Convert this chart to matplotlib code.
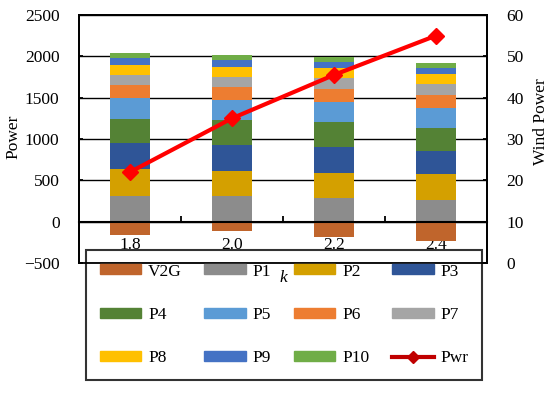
import matplotlib
matplotlib.use('Agg')
import matplotlib.pyplot as plt
from matplotlib.patches import Patch
from matplotlib.lines import Line2D
import numpy as np

plt.rcParams['font.family'] = ['Liberation Serif', 'DejaVu Serif']
fs = 12.5

k_labels = ['1.8', '2.0', '2.2', '2.4']
v2g = [-160, -116, -188, -236]
p1 = [305, 305, 285, 261]
p2 = [328, 308, 309, 312]
p3 = [313, 312, 308, 281]
p4 = [300, 309, 300, 276]
p5 = [249, 240, 240, 240]
p6 = [160, 153, 161, 165]
p7 = [120, 128, 133, 132]
p8 = [120, 120, 120, 120]
p9 = [88, 80, 79, 76]
p10 = [53, 60, 53, 60]
pwr = [22, 35, 45.5, 55]

names = ['P1', 'P2', 'P3', 'P4', 'P5', 'P6', 'P7', 'P8', 'P9', 'P10']
series = [p1, p2, p3, p4, p5, p6, p7, p8, p9, p10]
colors = ['#8c8c8c', '#d4a000', '#2f5597', '#548235', '#5b9bd5',
          '#ed7d31', '#a5a5a5', '#ffc000', '#4472c4', '#70ad47']
v2g_color = '#c0652c'

fig = plt.figure(figsize=(5.5, 3.94), dpi=100)
ax = fig.add_axes([79/550, 1-263/394, 408/550, 248/394])
x = np.arange(len(k_labels))
w = 0.4

ax.bar(x, v2g, w, color=v2g_color, zorder=1)
bottom = np.zeros(len(x))
for vals, c in zip(series, colors):
    ax.bar(x, vals, w, bottom=bottom, color=c, zorder=1)
    bottom += np.array(vals)

ax.set_xlim(-0.5, 3.5)
ax.set_ylim(-500, 2500)
ax.set_yticks(np.arange(-500, 2501, 500))
ax.yaxis.grid(True, color='black', lw=1)
ax.set_axisbelow(True)
ax.spines['bottom'].set_position(('data', 0))
ax.spines['bottom'].set_linewidth(1.5)
for s in ['left', 'top', 'right']:
    ax.spines[s].set_linewidth(1.3)
ax.set_xticks([0.5, 1.5, 2.5])
ax.set_xticklabels([])
ax.set_xticks(x, minor=True)
ax.set_xticklabels(k_labels, minor=True)
ax.tick_params(axis='x', which='major', direction='in', length=4, width=1.3)
ax.tick_params(axis='x', which='minor', length=0, pad=11, labelsize=fs)
ax.tick_params(axis='y', direction='in', length=3, width=1.3, labelsize=fs, pad=14)
ax.set_ylabel('Power', fontsize=fs)
ax.yaxis.set_label_coords(-0.142, 0.51)

ax2 = ax.twinx()
ax2.plot(x, pwr, color='#ff0000', lw=3, marker='D', markersize=8)
ax2.set_ylim(0, 60)
ax2.set_yticks(np.arange(0, 61, 10))
ax2.tick_params(axis='y', direction='in', length=3, width=1.3, labelsize=fs, pad=14)
for s in ax2.spines.values():
    s.set_linewidth(1.3)
ax2.set_ylabel('Wind Power', fontsize=fs)
ax2.yaxis.set_label_coords(1.112, 0.57)

handles = [Patch(color=v2g_color, label='V2G')]
handles += [Patch(color=c, label=n) for n, c in zip(names, colors)]
handles.append(Line2D([], [], color='#c00000', lw=3, marker='D', markersize=6, label='Pwr'))
# legend fills by columns, reorder so it reads by rows
order = []
for col in range(4):
    for row in range(3):
        order.append(row*4 + col)
hh = [handles[i] for i in order]
leg = fig.legend(handles=hh, ncol=4, loc='lower left', mode='expand',
                 bbox_to_anchor=(86/550, 1-380/394, 396/550, 129/394),
                 borderaxespad=0, fontsize=fs, frameon=True, fancybox=False,
                 edgecolor='black', facecolor='none', handlelength=2.4,
                 handleheight=0.5, labelspacing=1.58, borderpad=0.78,
                 handletextpad=0.4, columnspacing=1.0)
leg.get_frame().set_linewidth(1.5)

fig.text(283/550, 1-278/394, 'k', fontsize=fs, style='italic', ha='center', va='center')

fig.savefig('out.png', dpi=100)
